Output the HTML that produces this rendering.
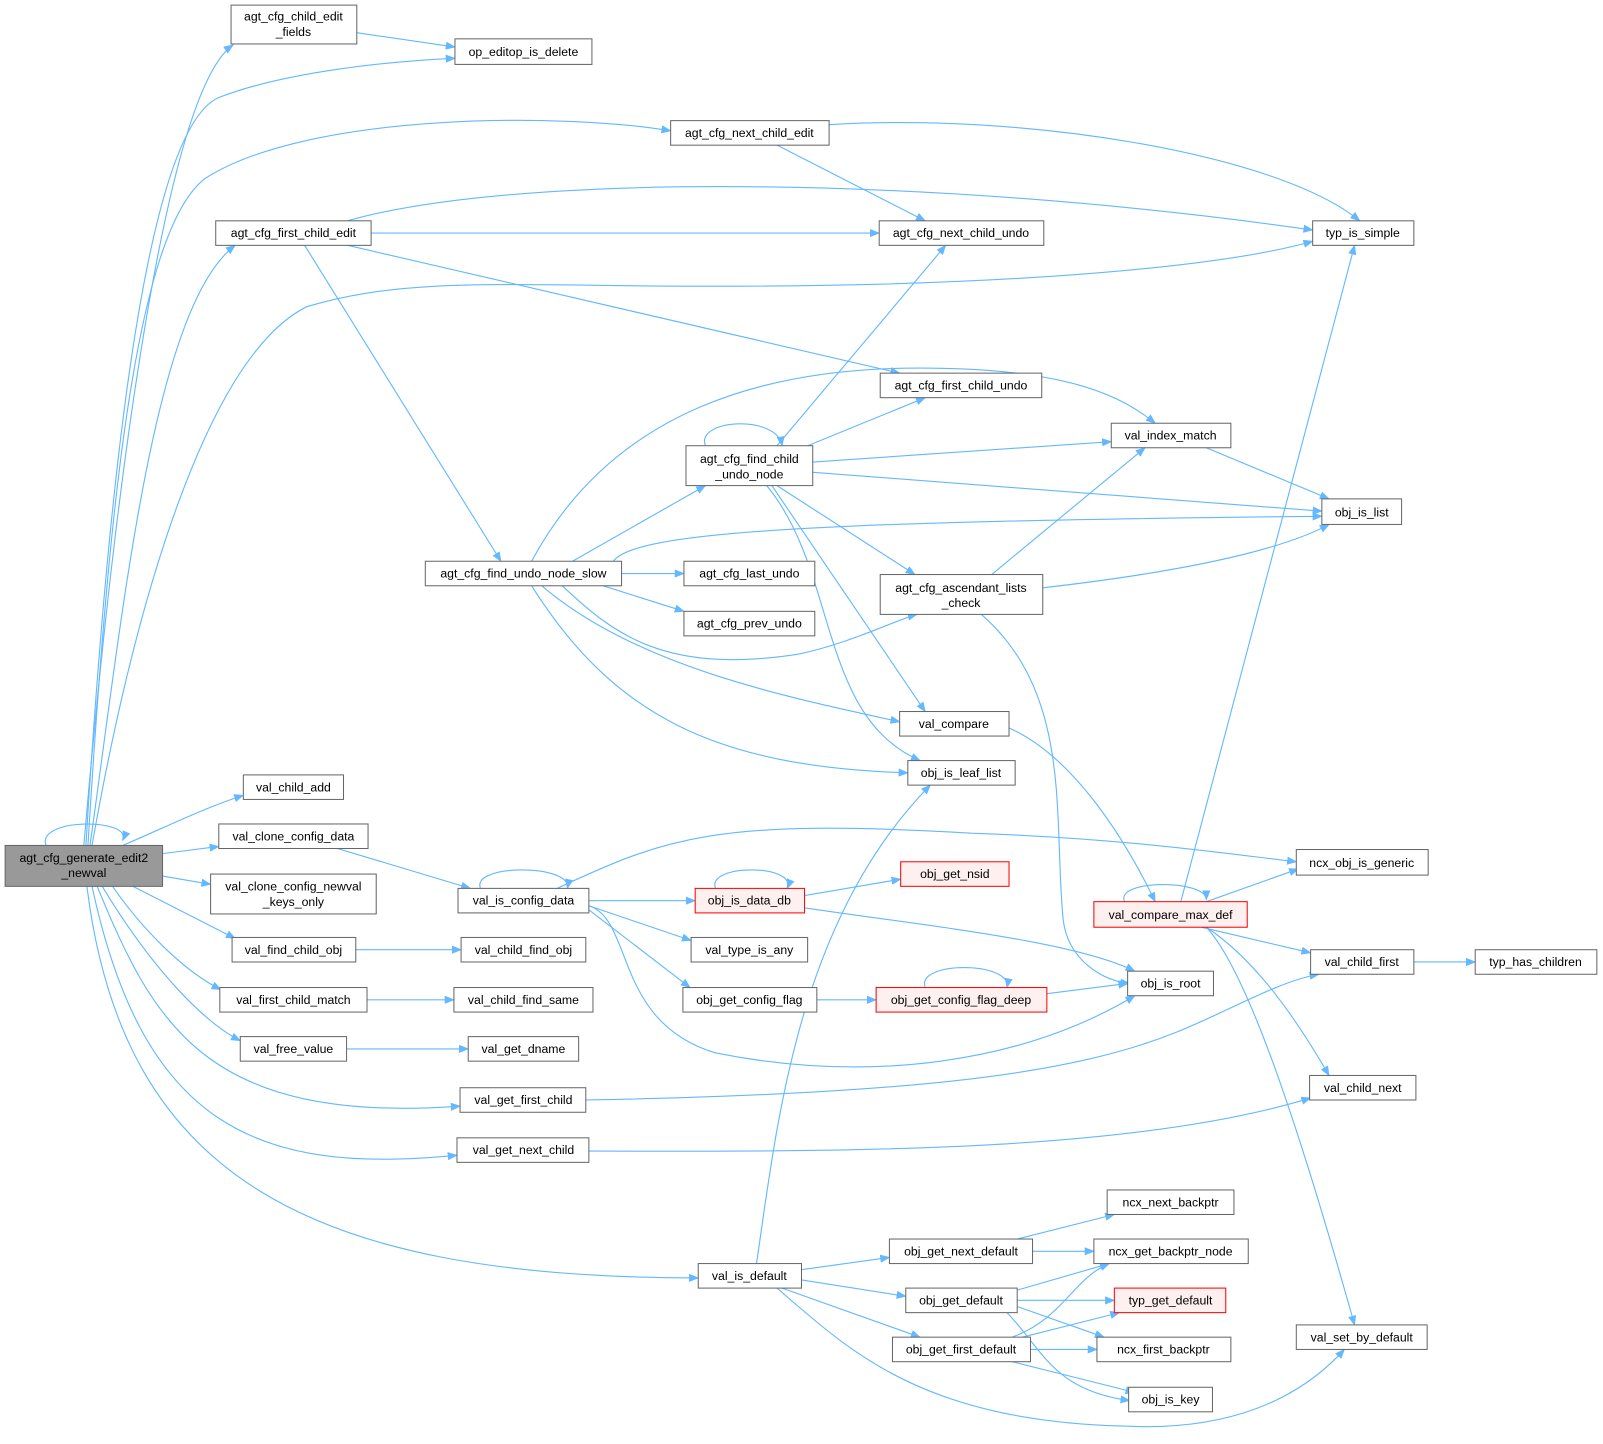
<!DOCTYPE html>
<html><head><meta charset="utf-8"><style>
html,body{margin:0;padding:0;background:#fff;}
svg{display:block;}
text{font-family:"Liberation Sans",sans-serif;font-size:12px;fill:#000;text-anchor:middle;}
.e{fill:none;stroke:#63b8ff;stroke-width:1.1;marker-end:url(#a);}
.n{fill:#fff;stroke:#666;stroke-width:1;}
.r{fill:#fff0f0;stroke:#ff0000;stroke-width:1;}
.g{fill:#999;stroke:#666;stroke-width:1;}
</style></head><body>
<svg width="1603" height="1444" viewBox="0 0 1568 1412.5" xmlns="http://www.w3.org/2000/svg">
<defs><marker id="a" markerWidth="10" markerHeight="8" refX="9" refY="4" orient="auto" markerUnits="userSpaceOnUse"><path d="M0,0 L10,4 L0,8 z" fill="#63b8ff"/></marker></defs>
<g>
<path class="e" d="M82,827 C110,500 160,90 228,44"/>
<path class="e" d="M84,827 C110,400 150,120 215,95 C280,70 380,60 445,57"/>
<path class="e" d="M86,827 C105,520 130,230 200,175 C300,110 550,110 656,128"/>
<path class="e" d="M88,827 C120,600 150,300 230,240"/>
<path class="e" d="M90,827 C130,600 200,350 300,300 C400,270 500,280 700,280 C1000,280 1200,260 1284,236"/>
<path class="e" d="M45,827 C35,800 130,800 120,822"/>
<path class="e" d="M120,827 C160,810 200,790 238,778"/>
<path class="e" d="M159,835 L214,828"/>
<path class="e" d="M159,857 L206,865"/>
<path class="e" d="M130,867 L230,918"/>
<path class="e" d="M110,867 C140,910 180,950 216,968"/>
<path class="e" d="M100,867 C150,950 200,1000 235,1018"/>
<path class="e" d="M95,867 C150,1000 200,1100 450,1082"/>
<path class="e" d="M90,867 C140,1100 250,1150 447,1130"/>
<path class="e" d="M85,867 C120,1150 300,1250 683,1250"/>
<path class="e" d="M349,32 L445,46"/>
<path class="e" d="M811,122 C1000,110 1250,150 1330,216"/>
<path class="e" d="M760,142 L905,216"/>
<path class="e" d="M340,216 C500,170 900,170 1284,225"/>
<path class="e" d="M363,228 L860,228"/>
<path class="e" d="M340,240 L880,365"/>
<path class="e" d="M298,240 L490,549"/>
<path class="e" d="M690,436 C680,410 760,405 765,436"/>
<path class="e" d="M760,436 L925,240"/>
<path class="e" d="M790,436 L905,389"/>
<path class="e" d="M795,452 L1087,432"/>
<path class="e" d="M795,462 L1293,500"/>
<path class="e" d="M760,475 L895,562"/>
<path class="e" d="M755,475 L905,696"/>
<path class="e" d="M750,475 C820,560 800,700 900,744"/>
<path class="e" d="M520,549 C600,400 750,360 900,360 C1050,360 1100,390 1130,414"/>
<path class="e" d="M560,549 L690,475"/>
<path class="e" d="M608,561 L669,561"/>
<path class="e" d="M590,573 L669,598"/>
<path class="e" d="M550,573 C600,620 650,660 780,640 C830,630 880,605 897,601"/>
<path class="e" d="M600,549 C620,520 800,510 1293,505"/>
<path class="e" d="M530,573 C620,650 760,680 880,706"/>
<path class="e" d="M520,573 C600,700 700,750 888,756"/>
<path class="e" d="M970,562 L1120,438"/>
<path class="e" d="M1020,575 C1150,560 1250,540 1300,513"/>
<path class="e" d="M960,601 C1050,680 1030,800 1040,900 C1045,940 1080,960 1105,962"/>
<path class="e" d="M1180,438 L1300,488"/>
<path class="e" d="M987,712 C1050,740 1100,820 1130,882"/>
<path class="e" d="M1100,882 C1090,860 1180,860 1180,880"/>
<path class="e" d="M1155,882 L1325,240"/>
<path class="e" d="M1180,882 L1270,850"/>
<path class="e" d="M1175,907 L1282,932"/>
<path class="e" d="M1180,907 C1230,940 1270,1000 1300,1052"/>
<path class="e" d="M1180,907 C1220,950 1270,1100 1325,1296"/>
<path class="e" d="M330,830 L460,869"/>
<path class="e" d="M470,869 C460,845 560,845 555,869"/>
<path class="e" d="M545,869 C650,820 700,800 950,815 C1100,820 1200,835 1268,843"/>
<path class="e" d="M576,881 L680,881"/>
<path class="e" d="M576,886 L676,920"/>
<path class="e" d="M576,890 L675,966"/>
<path class="e" d="M576,886 C620,900 600,1000 700,1030 C850,1060 1000,1040 1110,974"/>
<path class="e" d="M700,869 C690,845 780,845 770,869"/>
<path class="e" d="M787,876 L881,860"/>
<path class="e" d="M787,888 C900,905 1050,920 1110,950"/>
<path class="e" d="M799,978 L857,978"/>
<path class="e" d="M905,966 C895,940 990,940 985,966"/>
<path class="e" d="M1024,972 L1103,962"/>
<path class="e" d="M348,929 L451,929"/>
<path class="e" d="M359,978 L444,978"/>
<path class="e" d="M339,1026 L458,1026"/>
<path class="e" d="M573,1076 C900,1070 1050,1050 1150,1010 C1200,990 1250,960 1290,953"/>
<path class="e" d="M576,1126 C800,1126 1100,1130 1282,1074"/>
<path class="e" d="M1383,941 L1443,941"/>
<path class="e" d="M740,1236 C760,1100 780,900 910,768"/>
<path class="e" d="M784,1242 L870,1230"/>
<path class="e" d="M784,1252 L886,1268"/>
<path class="e" d="M765,1260 L900,1308"/>
<path class="e" d="M760,1260 C830,1320 900,1390 1100,1395 C1200,1400 1270,1370 1315,1320"/>
<path class="e" d="M995,1212 L1090,1188"/>
<path class="e" d="M1010,1224 L1070,1224"/>
<path class="e" d="M995,1262 L1085,1236"/>
<path class="e" d="M995,1272 L1090,1272"/>
<path class="e" d="M995,1278 L1080,1308"/>
<path class="e" d="M985,1284 C1020,1320 1030,1360 1105,1370"/>
<path class="e" d="M990,1308 C1040,1290 1050,1250 1085,1236"/>
<path class="e" d="M1000,1308 L1095,1284"/>
<path class="e" d="M1008,1320 L1073,1320"/>
<path class="e" d="M990,1332 L1110,1362"/>
</g>
<g>
<rect class="g" x="5" y="827" width="154" height="40"/><text x="82" y="843">agt_cfg_generate_edit2</text><text x="82" y="858">_newval</text>
<rect class="n" x="226" y="5" width="123" height="38"/><text x="287" y="20">agt_cfg_child_edit</text><text x="287" y="35">_fields</text>
<rect class="n" x="445" y="38" width="134" height="25"/><text x="512" y="55">op_editop_is_delete</text>
<rect class="n" x="656" y="118" width="155" height="24"/><text x="733" y="134">agt_cfg_next_child_edit</text>
<rect class="n" x="211" y="216" width="152" height="24"/><text x="287" y="232">agt_cfg_first_child_edit</text>
<rect class="n" x="860" y="216" width="161" height="24"/><text x="940" y="232">agt_cfg_next_child_undo</text>
<rect class="n" x="1284" y="216" width="99" height="24"/><text x="1333" y="232">typ_is_simple</text>
<rect class="n" x="861" y="365" width="158" height="24"/><text x="940" y="381">agt_cfg_first_child_undo</text>
<rect class="n" x="671" y="436" width="124" height="39"/><text x="733" y="453">agt_cfg_find_child</text><text x="733" y="468">_undo_node</text>
<rect class="n" x="1087" y="414" width="117" height="24"/><text x="1145" y="430">val_index_match</text>
<rect class="n" x="1293" y="488" width="78" height="25"/><text x="1332" y="505">obj_is_list</text>
<rect class="n" x="416" y="549" width="192" height="24"/><text x="512" y="565">agt_cfg_find_undo_node_slow</text>
<rect class="n" x="669" y="549" width="128" height="24"/><text x="733" y="565">agt_cfg_last_undo</text>
<rect class="n" x="861" y="562" width="159" height="39"/><text x="940" y="579">agt_cfg_ascendant_lists</text><text x="940" y="594">_check</text>
<rect class="n" x="669" y="598" width="128" height="24"/><text x="733" y="614">agt_cfg_prev_undo</text>
<rect class="n" x="880" y="696" width="107" height="24"/><text x="933" y="712">val_compare</text>
<rect class="n" x="888" y="744" width="105" height="24"/><text x="940" y="760">obj_is_leaf_list</text>
<rect class="n" x="238" y="758" width="98" height="24"/><text x="287" y="774">val_child_add</text>
<rect class="n" x="214" y="806" width="146" height="24"/><text x="287" y="822">val_clone_config_data</text>
<rect class="n" x="206" y="855" width="162" height="39"/><text x="287" y="871">val_clone_config_newval</text><text x="287" y="886">_keys_only</text>
<rect class="n" x="1268" y="831" width="129" height="25"/><text x="1332" y="848">ncx_obj_is_generic</text>
<rect class="n" x="448" y="869" width="128" height="24"/><text x="512" y="885">val_is_config_data</text>
<rect class="r" x="680" y="869" width="107" height="24"/><text x="733" y="885">obj_is_data_db</text>
<rect class="r" x="881" y="843" width="106" height="24"/><text x="934" y="859">obj_get_nsid</text>
<rect class="r" x="1070" y="882" width="150" height="25"/><text x="1145" y="899">val_compare_max_def</text>
<rect class="n" x="227" y="917" width="121" height="24"/><text x="287" y="933">val_find_child_obj</text>
<rect class="n" x="451" y="917" width="122" height="24"/><text x="512" y="933">val_child_find_obj</text>
<rect class="n" x="676" y="917" width="114" height="24"/><text x="733" y="933">val_type_is_any</text>
<rect class="n" x="1282" y="929" width="101" height="24"/><text x="1332" y="945">val_child_first</text>
<rect class="n" x="1443" y="929" width="119" height="24"/><text x="1502" y="945">typ_has_children</text>
<rect class="n" x="215" y="966" width="144" height="24"/><text x="287" y="982">val_first_child_match</text>
<rect class="n" x="444" y="966" width="136" height="24"/><text x="512" y="982">val_child_find_same</text>
<rect class="n" x="668" y="966" width="131" height="24"/><text x="733" y="982">obj_get_config_flag</text>
<rect class="r" x="857" y="966" width="167" height="24"/><text x="940" y="982">obj_get_config_flag_deep</text>
<rect class="n" x="1103" y="950" width="84" height="24"/><text x="1145" y="966">obj_is_root</text>
<rect class="n" x="235" y="1014" width="104" height="24"/><text x="287" y="1030">val_free_value</text>
<rect class="n" x="458" y="1014" width="108" height="24"/><text x="512" y="1030">val_get_dname</text>
<rect class="n" x="450" y="1064" width="123" height="24"/><text x="512" y="1080">val_get_first_child</text>
<rect class="n" x="1281" y="1052" width="104" height="24"/><text x="1333" y="1068">val_child_next</text>
<rect class="n" x="447" y="1113" width="129" height="24"/><text x="512" y="1129">val_get_next_child</text>
<rect class="n" x="1083" y="1164" width="124" height="24"/><text x="1145" y="1180">ncx_next_backptr</text>
<rect class="n" x="870" y="1212" width="140" height="24"/><text x="940" y="1228">obj_get_next_default</text>
<rect class="n" x="1070" y="1212" width="151" height="24"/><text x="1145" y="1228">ncx_get_backptr_node</text>
<rect class="n" x="683" y="1236" width="101" height="24"/><text x="733" y="1252">val_is_default</text>
<rect class="n" x="886" y="1260" width="109" height="24"/><text x="940" y="1276">obj_get_default</text>
<rect class="r" x="1090" y="1260" width="109" height="24"/><text x="1145" y="1276">typ_get_default</text>
<rect class="n" x="1268" y="1296" width="128" height="24"/><text x="1332" y="1312">val_set_by_default</text>
<rect class="n" x="873" y="1308" width="135" height="24"/><text x="940" y="1324">obj_get_first_default</text>
<rect class="n" x="1073" y="1308" width="131" height="24"/><text x="1138" y="1324">ncx_first_backptr</text>
<rect class="n" x="1104" y="1357" width="82" height="24"/><text x="1145" y="1373">obj_is_key</text>
</g>
</svg>
</body></html>
